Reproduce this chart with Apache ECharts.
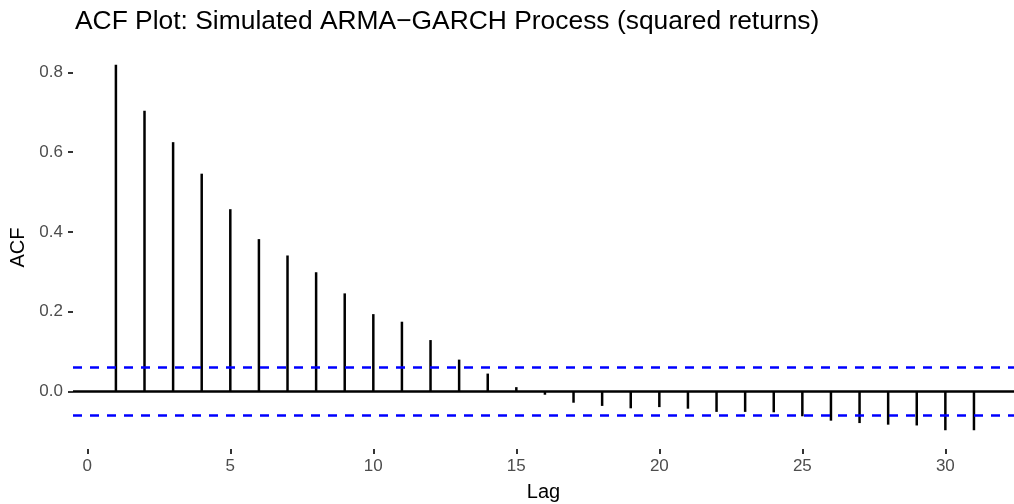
<!DOCTYPE html>
<html>
<head>
<meta charset="utf-8">
<script src="https://cdn.jsdelivr.net/npm/echarts@6/dist/echarts.min.js"></script>
<style>
  html, body { margin: 0; padding: 0; background: #fff; }
  #chart { width: 1014px; height: 504px; }
</style>
</head>
<body>
<div id="chart"></div>
<script>
// lags and sample autocorrelations of squared returns
const lags = [1, 2, 3, 4, 5, 6, 7, 8, 9, 10, 11, 12, 13, 14, 15, 16,
  17, 18, 19, 20, 21, 22, 23, 24, 25, 26, 27, 28, 29, 30, 31];
const acfValues = [0.819, 0.704, 0.625, 0.546, 0.457, 0.382, 0.341, 0.299,
  0.246, 0.194, 0.175, 0.129, 0.080, 0.045, 0.011, -0.008, -0.028, -0.036,
  -0.042, -0.039, -0.043, -0.051, -0.051, -0.052, -0.062, -0.073, -0.079,
  -0.083, -0.085, -0.097, -0.097];
// confidence bounds (+/- 1.96/sqrt(n))
const confBounds = [0.0553, -0.0553];
const xTicks = [0, 5, 10, 15, 20, 25, 30];
const yTicks = [0, 0.2, 0.4, 0.6, 0.8];

const font = "Liberation Sans, Arial, sans-serif";
const chart = echarts.init(document.getElementById("chart"));

chart.setOption({
  animation: false,
  title: {
    text: "ACF Plot: Simulated ARMA\u2212GARCH Process (squared returns)",
    left: 70,
    top: 4,
    textStyle: { fontFamily: font, fontSize: 26.4, fontWeight: "normal", color: "#000" }
  },
  grid: { left: 73, right: 0, top: 46, bottom: 55, outerBoundsMode: "none" },
  xAxis: {
    type: "value",
    min: -0.5,
    max: 32.4,
    name: "Lag",
    nameLocation: "middle",
    nameGap: 33,
    nameTextStyle: { fontFamily: font, fontSize: 20, color: "#000" },
    axisLine: { show: false, onZero: false },
    splitLine: { show: false },
    axisTick: { show: true, length: 5, customValues: xTicks, lineStyle: { color: "#333", width: 2 } },
    axisLabel: { customValues: xTicks, margin: 9, fontFamily: font, fontSize: 17, color: "#4d4d4d" }
  },
  yAxis: {
    type: "value",
    min: -0.144,
    max: 0.866,
    name: "ACF",
    nameLocation: "middle",
    nameGap: 44,
    nameTextStyle: { fontFamily: font, fontSize: 20, color: "#000" },
    axisLine: { show: false, onZero: false },
    splitLine: { show: false },
    axisTick: { show: true, length: 5, customValues: yTicks, lineStyle: { color: "#333", width: 2 } },
    axisLabel: {
      customValues: yTicks, margin: 10, fontFamily: font, fontSize: 17, color: "#4d4d4d",
      formatter: (v) => v.toFixed(1)
    }
  },
  series: [
    {
      type: "bar",
      data: lags.map((l, i) => [l, acfValues[i]]),
      barWidth: 2.5,
      itemStyle: { color: "#000" },
      markLine: {
        silent: true,
        symbol: "none",
        label: { show: false },
        data: [
          { yAxis: 0, lineStyle: { color: "#000", width: 2.5, type: "solid" } },
          { yAxis: confBounds[0], lineStyle: { color: "#0000ff", width: 2.5, type: [9, 8] } },
          { yAxis: confBounds[1], lineStyle: { color: "#0000ff", width: 2.5, type: [9, 8] } }
        ]
      }
    }
  ]
});
</script>
</body>
</html>
